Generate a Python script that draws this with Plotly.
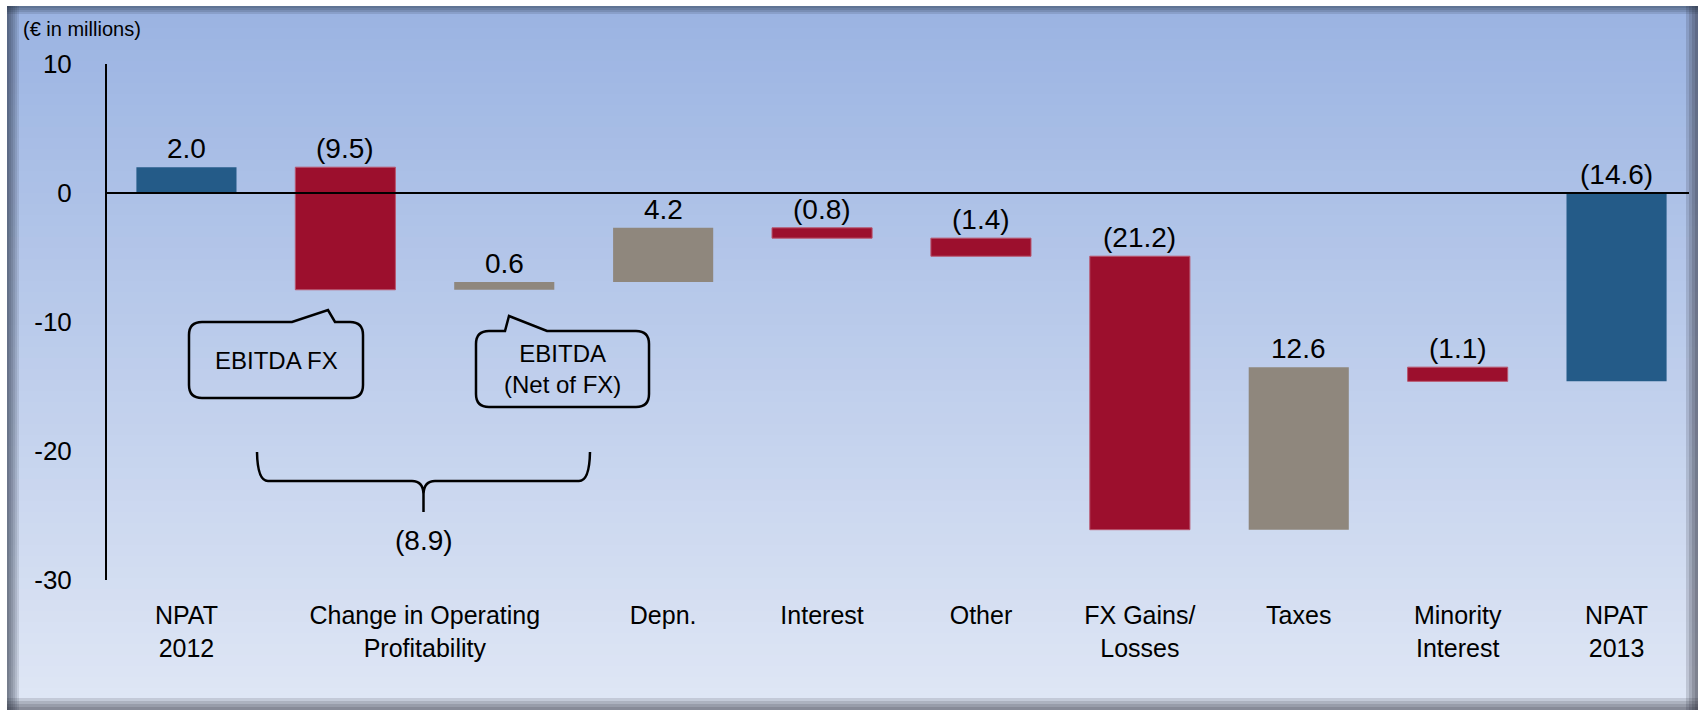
import plotly.graph_objects as go

# ---------------- data ----------------
unit_label = "(€ in millions)"
steps = ["NPAT 2012", "EBITDA FX", "EBITDA (Net of FX)", "Depn.", "Interest",
         "Other", "FX Gains/Losses", "Taxes", "Minority Interest", "NPAT 2013"]
values = [2.0, -9.5, 0.6, 4.2, -0.8, -1.4, -21.2, 12.6, -1.1, -14.6]
measures = ["absolute", "relative", "relative", "relative", "relative",
            "relative", "relative", "relative", "relative", "total"]
axis_labels = ["NPAT<br>2012", "Change in Operating<br>Profitability", "Depn.", "Interest",
               "Other", "FX Gains/<br>Losses", "Taxes", "Minority<br>Interest", "NPAT<br>2013"]
axis_label_members = [["NPAT 2012"], ["EBITDA FX", "EBITDA (Net of FX)"], ["Depn."], ["Interest"],
                      ["Other"], ["FX Gains/Losses"], ["Taxes"], ["Minority Interest"], ["NPAT 2013"]]
callout_texts = ["EBITDA FX", "EBITDA<br>(Net of FX)"]
group_members = ["EBITDA FX", "EBITDA (Net of FX)"]
y_ticks = [10, 0, -10, -20, -30]
y_tick_text = ["10", "0", "-10", "-20", "-30"]

# ---------------- styles ----------------
FONT = "Liberation Sans, Arial, sans-serif"
BLUE, RED, GRAY = "#245B88", "#9C0F2D", "#8F877D"
W, H = 1700, 712
L, R, T, B = 107, 4, 64, 132
PW, PH = W - L - R, H - T - B


def px(x):
    return (x - L) / PW


def py(y):
    return 1 - (y - T) / PH


def P(x, y):
    return f"{px(x):.5f},{py(y):.5f}"


def fmt(v):
    return f"{v:.1f}" if v >= 0 else f"({abs(v):.1f})"


n = len(steps)
xs = list(range(n))

# running totals for label placement
tops, shown = [], []
cum = 0.0
for m, v in zip(measures, values):
    if m == "absolute":
        start, end = 0.0, v
        cum = v
    elif m == "total":
        start, end = 0.0, cum
    else:
        start, end = cum, cum + v
        cum = cum + v
    tops.append(max(start, end))
    shown.append(end - start if m != "total" else cum)

fig = go.Figure()
fig.add_trace(go.Waterfall(
    x=xs, y=values, measure=measures,
    increasing=dict(marker=dict(color=GRAY)),
    decreasing=dict(marker=dict(color=RED, line=dict(color="#B8566E", width=1))),
    totals=dict(marker=dict(color=BLUE)),
    connector=dict(visible=False),
    textinfo="none", hoverinfo="skip", showlegend=False,
))

annotations = []
for i in xs:
    annotations.append(dict(x=i, y=tops[i], xref="x", yref="y", text=fmt(shown[i]),
                            showarrow=False, xanchor="center", yanchor="bottom", yshift=1,
                            font=dict(size=28, color="black", family=FONT)))

group_total = sum(values[steps.index(s)] for s in group_members)
annotations.append(dict(x=px(423.5), y=py(540), xref="paper", yref="paper",
                        xanchor="center", yanchor="middle",
                        text=fmt(group_total), showarrow=False,
                        font=dict(size=28, color="black", family=FONT)))
annotations.append(dict(x=px(276.5), y=py(360.5), xref="paper", yref="paper",
                        xanchor="center", yanchor="middle",
                        text=callout_texts[0], showarrow=False,
                        font=dict(size=24, color="black", family=FONT)))
annotations.append(dict(x=px(562.7), y=py(369), xref="paper", yref="paper",
                        xanchor="center", yanchor="middle",
                        text=callout_texts[1], showarrow=False,
                        font=dict(size=24, color="black", family=FONT)))
annotations.append(dict(x=px(21), y=py(29), xref="paper", yref="paper", xanchor="left",
                        yanchor="middle", text=unit_label, showarrow=False,
                        font=dict(size=20, color="black", family=FONT)))

shapes = []
# background gradient panel
top_rgb = (0x9A, 0xB3, 0xE2)
bot_rgb = (0xE0, 0xE7, 0xF5)
X0, X1, Y0, Y1 = 7, 1698, 6, 710
N = 64
for k in range(N):
    ya = Y0 + (Y1 - Y0) * k / N
    yb = min(Y1, Y0 + (Y1 - Y0) * (k + 1) / N + 1)
    t = (k + 0.5) / N
    c = tuple(round(a + (b - a) * t) for a, b in zip(top_rgb, bot_rgb))
    shapes.append(dict(type="rect", xref="paper", yref="paper", x0=px(X0), x1=px(X1),
                       y0=py(yb), y1=py(ya), fillcolor="rgb(%d,%d,%d)" % c,
                       line=dict(width=0), layer="below"))
# edge shadows
for w in [12, 10, 8, 6, 4, 2]:
    shapes.append(dict(type="rect", xref="paper", yref="paper", x0=px(X0), x1=px(X0 + w),
                       y0=py(Y1), y1=py(Y0), fillcolor="rgba(30,40,60,0.12)",
                       line=dict(width=0), layer="below"))
for w in [12, 9, 6, 3]:
    shapes.append(dict(type="rect", xref="paper", yref="paper", x0=px(X1 - w), x1=px(X1),
                       y0=py(Y1), y1=py(Y0), fillcolor="rgba(40,42,52,0.17)",
                       line=dict(width=0), layer="below"))
for h in [8, 6, 4, 2]:
    shapes.append(dict(type="rect", xref="paper", yref="paper", x0=px(X0), x1=px(X1),
                       y0=py(Y0 + h), y1=py(Y0), fillcolor="rgba(30,40,60,0.14)",
                       line=dict(width=0), layer="below"))
for h in [12, 9, 6, 3]:
    shapes.append(dict(type="rect", xref="paper", yref="paper", x0=px(X0), x1=px(X1),
                       y0=py(Y1), y1=py(Y1 - h), fillcolor="rgba(40,42,52,0.15)",
                       line=dict(width=0), layer="below"))

# zero line above bars
shapes.append(dict(type="line", xref="paper", yref="y", x0=0, x1=px(1689), y0=0, y1=0,
                   line=dict(color="black", width=2), layer="above"))


def callout(l, r, t, b, rad, tab):
    (a, tip, c) = tab
    d = (f"M {P(l + rad, t)} L {P(a, t)} L {P(tip[0], tip[1])} L {P(c, t)} "
         f"L {P(r - rad, t)} Q {P(r, t)} {P(r, t + rad)} L {P(r, b - rad)} "
         f"Q {P(r, b)} {P(r - rad, b)} L {P(l + rad, b)} Q {P(l, b)} {P(l, b - rad)} "
         f"L {P(l, t + rad)} Q {P(l, t)} {P(l + rad, t)} Z")
    return dict(type="path", xref="paper", yref="paper", path=d,
                line=dict(color="black", width=2.5), fillcolor="rgba(0,0,0,0)", layer="above")


shapes.append(callout(189, 363, 322, 398, 13, (292, (328, 310), 335)))
shapes.append(callout(476, 649, 331, 407, 13, (505, (509, 316), 547)))

brace = (f"M {P(257, 452)} Q {P(257.5, 481)} {P(268, 481)} L {P(412, 481)} "
         f"Q {P(423, 481)} {P(423.5, 494)} "
         f"M {P(590, 452)} Q {P(589.5, 481)} {P(579, 481)} L {P(435, 481)} "
         f"Q {P(424, 481)} {P(423.5, 494)} L {P(423.5, 512)}")
shapes.append(dict(type="path", xref="paper", yref="paper", path=brace,
                   line=dict(color="black", width=2.5), layer="above"))

tick_pos = [sum(steps.index(s) for s in grp) / len(grp) for grp in axis_label_members]

fig.update_layout(
    width=W, height=H,
    margin=dict(l=L, r=R, t=T, b=B, pad=0, autoexpand=False),
    paper_bgcolor="white", plot_bgcolor="rgba(0,0,0,0)",
    showlegend=False, waterfallgap=0.37,
    font=dict(family=FONT, color="black"),
    shapes=shapes, annotations=annotations,
)
fig.update_xaxes(range=[-0.5, n - 0.5], tickmode="array", tickvals=tick_pos, ticktext=axis_labels,
                 showgrid=False, zeroline=False, showline=False, ticks="",
                 tickfont=dict(size=25, color="black", family=FONT),
                 ticklabelstandoff=18, automargin=False, fixedrange=True)
fig.update_yaxes(range=[y_ticks[-1], y_ticks[0]], tickmode="array", tickvals=y_ticks,
                 ticktext=y_tick_text, showgrid=False, zeroline=False, showline=True,
                 linecolor="black", linewidth=2, ticks="",
                 tickfont=dict(size=26, color="black", family=FONT),
                 ticklabelstandoff=28, automargin=False, fixedrange=True)

fig.write_html("out.html", config={"displayModeBar": False},
               post_script="document.body.style.margin='0';document.body.style.overflow='hidden';")
